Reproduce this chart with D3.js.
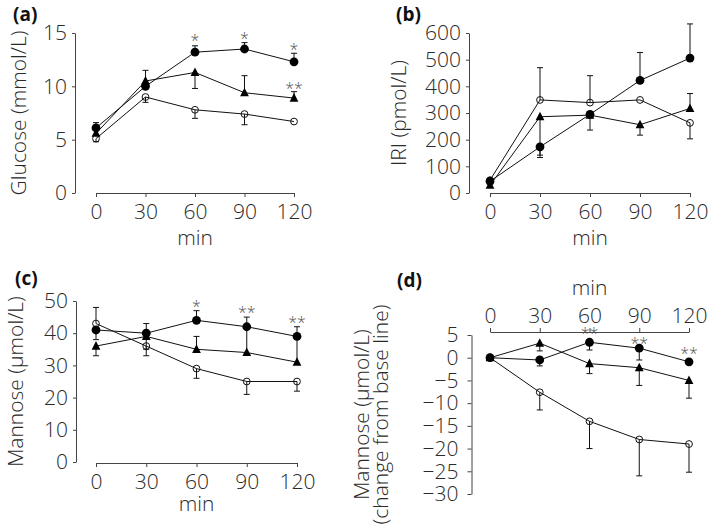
<!DOCTYPE html>
<html><head><meta charset="utf-8">
<script src="https://cdn.jsdelivr.net/npm/d3@7"></script>
<style>
html,body{margin:0;padding:0;background:#fff;}
svg{display:block;}
text{font-family:"Open Sans",sans-serif;}
</style></head>
<body>
<svg id="chart" width="709" height="526"></svg>
<script>
// ---------- data ----------
const times = [0, 30, 60, 90, 120];
const xTickLabels = ["0", "30", "60", "90", "120"];

// (a) Glucose (mmol/L)
const glucoseFilled = [6.1, 10.0, 13.2, 13.5, 12.3];
const glucoseFilledErr = [6.6, null, 13.8, 14.1, 13.1];
const glucoseTriangle = [5.6, 10.5, 11.3, 9.4, 8.9];
const glucoseTriangleErr = [null, 11.5, 9.8, 11.0, 9.5];
const glucoseOpen = [5.1, 9.0, 7.8, 7.4, 6.7];
const glucoseOpenErr = [4.8, 8.5, 7.0, 6.4, null];
const glucoseTicks = [0, 5, 10, 15];
const glucoseStars = [{t: 60, v: 14.6, s: "*"}, {t: 90, v: 14.8, s: "*"}, {t: 120, v: 13.8, s: "*"}, {t: 120, v: 10.1, s: "**"}];

// (b) IRI (pmol/L)
const iriFilled = [44, 173, 295, 422, 506];
const iriFilledErr = [null, 133, null, 527, 634];
const iriTriangle = [29, 286, 292, 256, 317];
const iriTriangleErr = [null, 142, 236, 217, 373];
const iriOpen = [48, 349, 339, 349, 263];
const iriOpenErr = [null, 470, 440, null, 203];
const iriTicks = [0, 100, 200, 300, 400, 500, 600];
const iriStars = [];

// (c) Mannose (µmol/L)
const mannoseFilled = [41, 40, 44, 42, 39];
const mannoseFilledErr = [38, 43, 47, 45, 42];
const mannoseTriangle = [36, 39, 35, 34, 31];
const mannoseTriangleErr = [33, 35, 39, 42, 39];
const mannoseOpen = [43, 36, 29, 25, 25];
const mannoseOpenErr = [48, 33, 26, 21, 22];
const mannoseTicks = [0, 10, 20, 30, 40, 50];
const mannoseStars = [{t: 60, v: 49.4, s: "*"}, {t: 90, v: 47.6, s: "**"}, {t: 120, v: 44.5, s: "**"}];

// (d) Mannose change from baseline (µmol/L)
const deltaFilled = [0, -0.5, 3.4, 2.1, -0.9];
const deltaFilledErr = [null, -1.8, 1.7, -0.5, null];
const deltaTriangle = [0, 3.2, -1.3, -2.2, -5.0];
const deltaTriangleErr = [null, 1.5, -3.5, -6.1, -8.9];
const deltaOpen = [0, -7.6, -14, -18, -19];
const deltaOpenErr = [null, -11.5, -20, -26, -25.2];
const deltaTicks = [5, 0, -5, -10, -15, -20, -25, -30];
const deltaStars = [{t: 60, v: 6.1, s: "**"}, {t: 90, v: 3.9, s: "**"}, {t: 120, v: 1.6, s: "**"}];

// ---------- layout ----------
const svg = d3.select("#chart");
const FS = 21;
const AXIS_COLOR = "#444";
const TEXT_COLOR = "#2a2a2a";

const panels = [
  {label: "(a)", lx: 13, ly: 21, titles: ["Glucose (mmol/L)"], tx: [25.5], yDomain: [0, 15], ticks: glucoseTicks,
   yAxisX: 75, xRange: [96, 294], yRange: [193, 33], xAxisY: 193, top: false, minY: 245, yPad: 5,
   filled: [glucoseFilled, glucoseFilledErr], tri: [glucoseTriangle, glucoseTriangleErr], open: [glucoseOpen, glucoseOpenErr], stars: glucoseStars},
  {label: "(b)", lx: 396, ly: 21, titles: ["IRI (pmol/L)"], tx: [406], yDomain: [0, 600], ticks: iriTicks,
   yAxisX: 469, xRange: [490, 690], yRange: [193, 33], xAxisY: 193, top: false, minY: 245, yPad: 5,
   filled: [iriFilled, iriFilledErr], tri: [iriTriangle, iriTriangleErr], open: [iriOpen, iriOpenErr], stars: iriStars},
  {label: "(c)", lx: 15, ly: 285, titles: ["Mannose (\u00b5mol/L)"], tx: [22.5], yDomain: [0, 50], ticks: mannoseTicks,
   yAxisX: 76, xRange: [96, 297], yRange: [462, 301], xAxisY: 463, top: false, minY: 511, yPad: 5,
   filled: [mannoseFilled, mannoseFilledErr], tri: [mannoseTriangle, mannoseTriangleErr], open: [mannoseOpen, mannoseOpenErr], stars: mannoseStars},
  {label: "(d)", lx: 397, ly: 287, titles: ["Mannose (\u00b5mol/L)", "(change from base line)"], tx: [369, 388], yDomain: [-30, 5], ticks: deltaTicks,
   yAxisX: 471.5, xRange: [490, 689], yRange: [494, 335], xAxisY: 332, top: true, minY: 295, yPad: 9,
   filled: [deltaFilled, deltaFilledErr], tri: [deltaTriangle, deltaTriangleErr], open: [deltaOpen, deltaOpenErr], stars: deltaStars}
];

function fmtTick(v) { return v < 0 ? "\u2212" + Math.abs(v) : String(v); }

panels.forEach(p => {
  const g = svg.append("g");
  const x = d3.scaleLinear().domain([times[0], times[times.length - 1]]).range(p.xRange);
  const y = d3.scaleLinear().domain(p.yDomain).range(p.yRange);

  // y axis
  const ya = g.append("g").attr("transform", `translate(${p.yAxisX},0)`)
    .call(d3.axisLeft(y).tickValues(p.ticks).tickFormat(fmtTick).tickSizeInner(p.top ? 4 : 3).tickSizeOuter(0).tickPadding(p.yPad));
  // x axis
  const xAxisGen = (p.top ? d3.axisTop(x) : d3.axisBottom(x))
    .tickValues(times).tickFormat((d, i) => xTickLabels[i]).tickSizeInner(4).tickSizeOuter(0).tickPadding(p.top ? 5 : 7);
  const xa = g.append("g").attr("transform", `translate(0,${p.xAxisY})`).call(xAxisGen);

  [ya, xa].forEach(a => {
    a.select(".domain").attr("stroke", AXIS_COLOR).attr("stroke-width", 1);
    a.selectAll(".tick line").attr("stroke", AXIS_COLOR).attr("stroke-width", 1);
    a.selectAll(".tick text").attr("fill", TEXT_COLOR).style("font-size", FS + "px").style("font-weight", 300)
      .style("font-family", "'Open Sans', sans-serif");
  });

  // axis titles
  p.titles.forEach((t, i) => {
    const cy = (p.yRange[0] + p.yRange[1]) / 2;
    g.append("text").attr("transform", `translate(${p.tx[i]},${cy}) rotate(-90)`)
      .attr("text-anchor", "middle").attr("fill", TEXT_COLOR)
      .style("font-size", FS + "px").style("font-weight", 300).text(t);
  });
  g.append("text").attr("x", (p.xRange[0] + p.xRange[1]) / 2).attr("y", p.minY)
    .attr("text-anchor", "middle").attr("fill", TEXT_COLOR)
    .style("font-size", FS + "px").style("font-weight", 300).text("min");

  // panel label
  g.append("text").attr("x", p.lx).attr("y", p.ly).attr("fill", "#111")
    .style("font-size", "19px").style("font-weight", 700).text(p.label);

  const series = [
    {vals: p.open[0], err: p.open[1], kind: "open"},
    {vals: p.tri[0], err: p.tri[1], kind: "tri"},
    {vals: p.filled[0], err: p.filled[1], kind: "filled"}
  ];
  const line = d3.line().x((d, i) => x(times[i])).y(d => y(d));

  // connecting lines
  series.forEach(s => {
    g.append("path").attr("d", line(s.vals)).attr("fill", "none").attr("stroke", "#111").attr("stroke-width", 1);
  });
  // error bars
  series.forEach(s => {
    s.err.forEach((e, i) => {
      if (e === null) return;
      const cx = x(times[i]);
      g.append("line").attr("x1", cx).attr("x2", cx).attr("y1", y(s.vals[i])).attr("y2", y(e))
        .attr("stroke", "#111").attr("stroke-width", 1);
      g.append("line").attr("x1", cx - 3).attr("x2", cx + 3).attr("y1", y(e)).attr("y2", y(e))
        .attr("stroke", "#111").attr("stroke-width", 1);
    });
  });
  // markers
  series.forEach(s => {
    s.vals.forEach((v, i) => {
      const cx = x(times[i]), cy = y(v);
      if (s.kind === "filled") {
        g.append("circle").attr("cx", cx).attr("cy", cy).attr("r", 4.4).attr("fill", "#000");
      } else if (s.kind === "open") {
        g.append("circle").attr("cx", cx).attr("cy", cy).attr("r", 3.4).attr("fill", "none")
          .attr("stroke", "#111").attr("stroke-width", 1);
      } else {
        g.append("path").attr("d", `M${cx},${cy - 5}L${cx + 4.4},${cy + 3.6}L${cx - 4.4},${cy + 3.6}Z`).attr("fill", "#000");
      }
    });
  });
  // significance stars
  p.stars.forEach(st => {
    g.append("text").attr("x", x(st.t)).attr("y", y(st.v) + 9)
      .attr("text-anchor", "middle").attr("fill", "#555")
      .style("font-size", "16px").style("font-weight", 300).text(st.s);
  });
});
</script>
</body></html>
